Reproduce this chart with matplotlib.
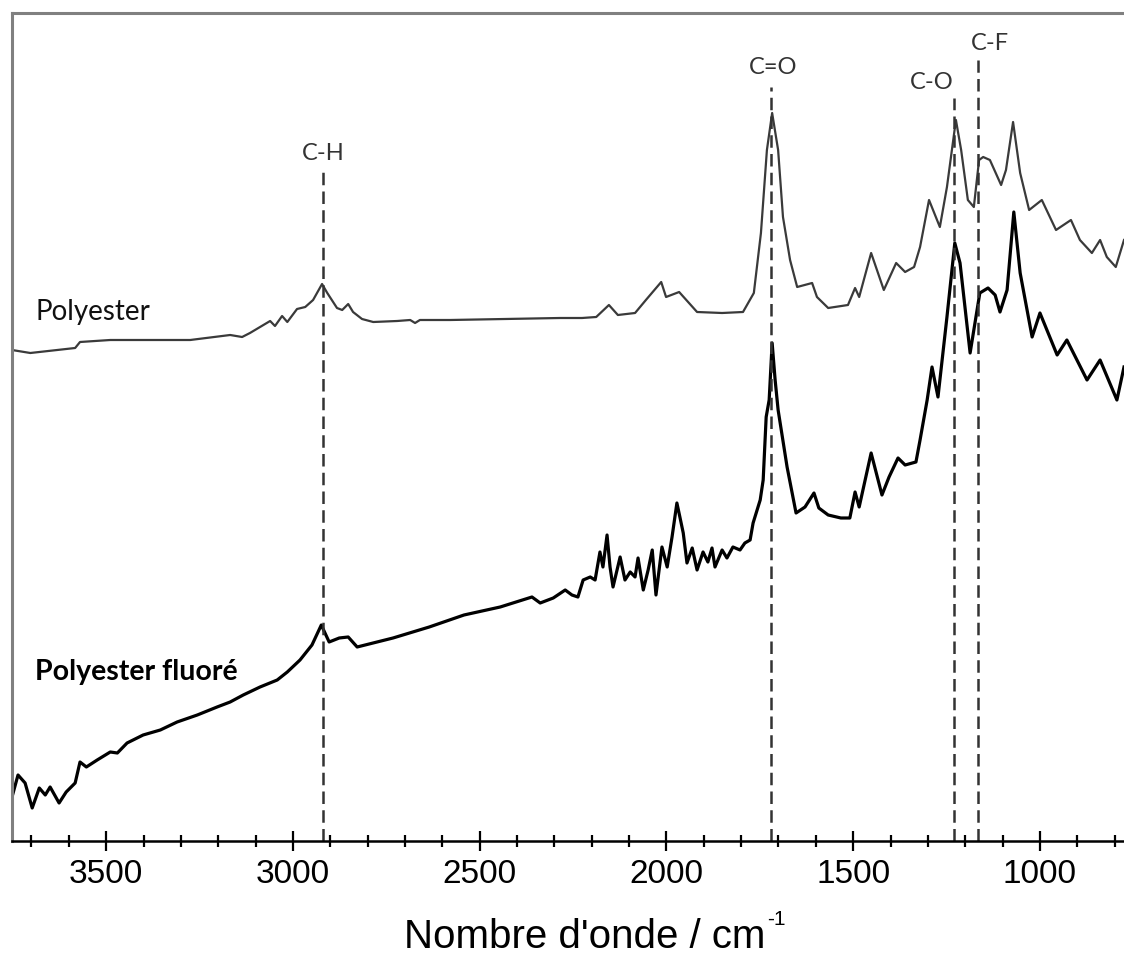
import matplotlib.pyplot as plt

# Polyester spectrum (upper trace), wavenumber in cm-1 and intensity in a.u.
poly_wn = [3752, 3703, 3583, 3570, 3489, 3275, 3168, 3136, 3115, 3088, 3061,
           3048, 3029, 3015, 2989, 2967, 2946, 2922, 2908, 2882, 2868, 2852,
           2839, 2815, 2785, 2721, 2686, 2673, 2660, 2579, 2285, 2226,
           2188, 2154, 2130, 2084, 2055, 2014, 2001, 1966, 1918, 1851, 1795,
           1766, 1747, 1731, 1717, 1701, 1688, 1669, 1650, 1610, 1597, 1567,
           1514, 1495, 1484, 1452, 1418, 1385, 1361, 1337, 1321, 1297, 1268,
           1249, 1225, 1211, 1193, 1177, 1163, 1152, 1134, 1104, 1091, 1072,
           1053, 1029, 995, 957, 917, 893, 861, 839, 821, 797, 775]
poly_abs = [4.91, 4.88, 4.93, 4.99, 5.01, 5.01, 5.06, 5.04, 5.08, 5.14, 5.20,
            5.15, 5.25, 5.19, 5.32, 5.34, 5.41, 5.57, 5.48, 5.33, 5.31, 5.37,
            5.29, 5.22, 5.19, 5.20, 5.21, 5.18, 5.21, 5.21, 5.23, 5.23,
            5.24, 5.36, 5.26, 5.28, 5.41, 5.59, 5.44, 5.49, 5.29, 5.28, 5.29,
            5.48, 6.08, 6.91, 7.28, 6.91, 6.24, 5.81, 5.54, 5.58, 5.44, 5.33,
            5.36, 5.53, 5.44, 5.88, 5.51, 5.78, 5.69, 5.74, 5.94, 6.41, 6.14,
            6.54, 7.21, 6.91, 6.41, 6.34, 6.81, 6.84, 6.81, 6.56, 6.71, 7.19,
            6.68, 6.31, 6.41, 6.11, 6.21, 6.01, 5.88, 6.01, 5.84, 5.74, 6.01]

# Fluorinated polyester spectrum (lower trace)
fluo_wn = [3752, 3736, 3717, 3698, 3679, 3663, 3650, 3626, 3607, 3583, 3570,
           3553, 3524, 3489, 3470, 3444, 3401, 3355, 3310, 3256, 3203, 3168,
           3133, 3088, 3042, 3015, 2981, 2949, 2924, 2903, 2876, 2852, 2828,
           2732, 2635, 2542, 2445, 2360, 2338, 2303, 2271, 2253, 2237, 2223,
           2204, 2191, 2178, 2170, 2159, 2151, 2143, 2124, 2111, 2097, 2084,
           2076, 2062, 2049, 2038, 2028, 2012, 1998, 1985, 1972, 1964, 1955,
           1945, 1931, 1918, 1902, 1889, 1878, 1870, 1851, 1838, 1822, 1803,
           1790, 1776, 1768, 1749, 1741, 1733, 1725, 1717, 1709, 1701,
           1677, 1653, 1629, 1605, 1592, 1567, 1533, 1509, 1495, 1484, 1452,
           1423, 1404, 1380, 1361, 1332, 1321, 1302, 1289, 1273, 1249, 1228,
           1214, 1187, 1161, 1139, 1120, 1107, 1088, 1070, 1053, 1021, 1000,
           954, 928, 874, 839, 794, 775]
fluo_abs = [0.44, 0.66, 0.58, 0.33, 0.53, 0.46, 0.54, 0.38, 0.49, 0.58, 0.79,
            0.74, 0.81, 0.89, 0.88, 0.98, 1.06, 1.11, 1.19, 1.26, 1.34, 1.39,
            1.46, 1.54, 1.61, 1.69, 1.81, 1.96, 2.16, 1.99, 2.03, 2.04, 1.94,
            2.03, 2.14, 2.26, 2.34, 2.44, 2.38, 2.43, 2.51, 2.46, 2.44, 2.61,
            2.64, 2.61, 2.89, 2.74, 3.06, 2.74, 2.54, 2.84, 2.61, 2.69, 2.64,
            2.83, 2.51, 2.71, 2.91, 2.46, 2.94, 2.74, 3.04, 3.38, 3.24, 3.08,
            2.78, 2.93, 2.71, 2.89, 2.79, 2.93, 2.74, 2.91, 2.83, 2.94, 2.91,
            2.98, 3.01, 3.18, 3.41, 3.61, 4.24, 4.41, 4.98, 4.61, 4.31,
            3.74, 3.28, 3.34, 3.48, 3.33, 3.26, 3.23, 3.23, 3.49, 3.34, 3.88,
            3.46, 3.64, 3.83, 3.76, 3.79, 4.01, 4.41, 4.74, 4.44, 5.24, 5.98,
            5.78, 4.88, 5.48, 5.53, 5.46, 5.29, 5.51, 6.29, 5.68, 5.04, 5.28,
            4.86, 5.01, 4.61, 4.81, 4.41, 4.74]

# band assignments: position, label position, top of dashed marker
band_names = ['C-H', 'C=O', 'C-O', 'C-F']
band_wn = [2920, 1720, 1230, 1165]
band_label_wn = [2920, 1715, 1289, 1134]
band_label_y = [6.88, 7.74, 7.59, 7.98]
band_line_top = [6.69, 7.54, 7.43, 7.81]

fig = plt.figure(figsize=(11.24, 9.56), dpi=100)
ax = fig.add_axes([0.0107, 0.1203, 0.9893, 0.8661])

ax.plot(poly_wn, poly_abs, color='#3a3a3a', lw=1.6)
ax.plot(fluo_wn, fluo_abs, color='black', lw=2.3)

ax.vlines(band_wn, 0, band_line_top, colors='#333333', lw=1.8,
          linestyles=(0, (5, 2.5)))
for name, x, y in zip(band_names, band_label_wn, band_label_y):
    ax.text(x, y, name, ha='center', va='center', fontsize=17,
            family='Lato', color='#333333')

ax.text(3690, 5.29, 'Polyester', ha='left', va='center', fontsize=20,
        family='Lato', color='#111111')
ax.text(3690, 1.69, 'Polyester fluoré', ha='left', va='center', fontsize=20.5,
        family='Lato', fontweight='bold', color='black')

ax.set_xlim(3752, 775)
ax.set_ylim(0, 8.28)
ax.set_xticks([3500, 3000, 2500, 2000, 1500, 1000])
ax.set_xticks(range(3700, 799, -100), minor=True)
ax.set_yticks([])
ax.tick_params(axis='x', which='major', direction='inout', length=14, width=1.6,
               pad=6, labelsize=24, colors='black')
ax.tick_params(axis='x', which='minor', direction='inout', length=8, width=1.6)
for lab in ax.get_xticklabels():
    lab.set_family('Liberation Sans')

ax.spines['right'].set_visible(False)
ax.spines['top'].set_color('#808080')
ax.spines['top'].set_linewidth(2.2)
ax.spines['left'].set_color('#808080')
ax.spines['left'].set_linewidth(2.2)
ax.spines['bottom'].set_color('black')
ax.spines['bottom'].set_linewidth(1.8)

ax.set_xlabel("Nombre d'onde / cm", fontsize=29, family='Liberation Sans')
ax.xaxis.set_label_coords(0.515, -0.093)
ax.annotate('-1', xy=(1.0, 1.0), xycoords=ax.xaxis.label, xytext=(1, 6),
            textcoords='offset points', ha='left', va='top', fontsize=15,
            family='Liberation Sans')

fig.savefig('out.png', dpi=100)
